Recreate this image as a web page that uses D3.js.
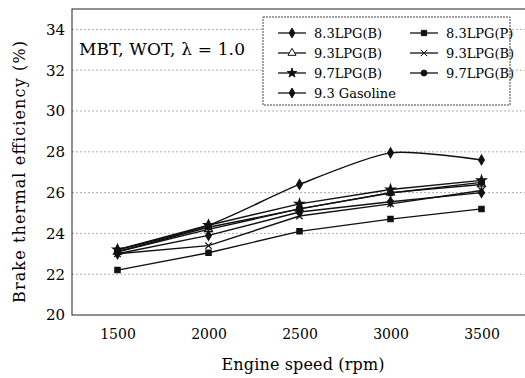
<!DOCTYPE html>
<html>
<head>
<meta charset="utf-8">
<script src="https://cdnjs.cloudflare.com/ajax/libs/d3/7.8.5/d3.min.js"></script>
<style>
body { margin: 0; background: #fff; }
text { font-family: "DejaVu Serif", serif; fill: #000; }
</style>
</head>
<body>
<svg width="525" height="378"></svg>
<script>
// engine speeds (rpm)
var speeds = [1500, 2000, 2500, 3000, 3500];
var yTicks = [20, 22, 24, 26, 28, 30, 32, 34];

// brake thermal efficiency (%)
var lpg83B  = [23.0, 23.9, 25.05, 25.55, 26.0];
var lpg83P  = [22.2, 23.05, 24.1, 24.7, 25.2];
var lpg93B  = [23.1, 24.2, 25.2, 26.0, 26.4];
var lpg93B2 = [23.0, 23.4, 24.85, 25.45, 26.1];
var lpg97B  = [23.2, 24.4, 25.45, 26.15, 26.6];
var lpg97B2 = [23.1, 24.3, 25.2, 25.98, 26.5];
var gasoline = [23.2, 24.4, 26.4, 27.95, 27.6];

var names = ["8.3LPG(B)", "8.3LPG(P)", "9.3LPG(B)", "9.3LPG(B)", "9.7LPG(B)", "9.7LPG(B)", "9.3 Gasoline"];
var series = [lpg83B, lpg83P, lpg93B, lpg93B2, lpg97B, lpg97B2, gasoline];
var symbols = [d3.symbolDiamond, d3.symbolSquare, d3.symbolTriangle, d3.symbolX, d3.symbolStar, d3.symbolCircle, d3.symbolDiamond];

var svg = d3.select("svg");
var pLeft = 72, pRight = 527, pTop = 9, pBottom = 315;

var x = d3.scaleLinear().domain([1250, 3750]).range([pLeft, pRight]);
var y = d3.scaleLinear().domain([20, 35]).range([pBottom, pTop]);

// dashed gridlines
svg.append("g").selectAll("line")
  .data(yTicks.slice(1))
  .enter().append("line")
  .attr("x1", pLeft).attr("x2", pRight)
  .attr("y1", function(d) { return y(d); })
  .attr("y2", function(d) { return y(d); })
  .attr("stroke", "#999")
  .attr("stroke-width", 0.8)
  .attr("stroke-dasharray", "2,2");

// frame
svg.append("rect")
  .attr("x", pLeft).attr("y", pTop)
  .attr("width", pRight - pLeft).attr("height", pBottom - pTop)
  .attr("fill", "none").attr("stroke", "#222").attr("stroke-width", 1);

// axes
var yAxis = d3.axisLeft(y).tickValues(yTicks).tickSize(0).tickPadding(7);
svg.append("g").attr("transform", "translate(" + pLeft + ",0)").call(yAxis)
  .call(function(g) { g.select(".domain").remove(); })
  .selectAll("text").style("font-size", "15px").style("font-family", "DejaVu Serif").attr("fill", "#000");

var xAxis = d3.axisBottom(x).tickValues(speeds).tickFormat(d3.format("d")).tickSize(0).tickPadding(14);
svg.append("g").attr("transform", "translate(0," + pBottom + ")").call(xAxis)
  .call(function(g) { g.select(".domain").remove(); })
  .selectAll("text").style("font-size", "14px").style("font-family", "DejaVu Serif").attr("fill", "#000");

// axis titles
svg.append("text")
  .attr("x", 303).attr("y", 370)
  .attr("text-anchor", "middle")
  .attr("textLength", 163)
  .style("font-size", "16px")
  .text("Engine speed (rpm)");

svg.append("text")
  .attr("transform", "translate(25,172) rotate(-90)")
  .attr("text-anchor", "middle")
  .attr("textLength", 262)
  .style("font-size", "16px")
  .text("Brake thermal efficiency (%)");

svg.append("text")
  .attr("x", 79).attr("y", 55)
  .attr("textLength", 166)
  .style("font-size", "17px")
  .text("MBT, WOT, \u03bb = 1.0");

// lines and markers
var line = d3.line()
  .x(function(d, i) { return x(speeds[i]); })
  .y(function(d) { return y(d); });

series.forEach(function(s, k) {
  svg.append("path")
    .datum(s)
    .attr("d", k == 6 ? line.curve(d3.curveCardinal.tension(0.3))(s) : line.curve(d3.curveLinear)(s))
    .attr("fill", "none")
    .attr("stroke", "#111")
    .attr("stroke-width", 1.4);

  svg.append("g").selectAll("path")
    .data(s)
    .enter().append("path")
    .attr("transform", function(d, i) { return "translate(" + x(speeds[i]) + "," + y(d) + ")"; })
    .attr("d", d3.symbol().type(symbols[k]).size(28))
    .attr("fill", k == 2 ? "#fff" : "#111")
    .attr("stroke", "#111")
    .attr("stroke-width", 1.2);
});

// legend
var lg = svg.append("g");
lg.append("rect")
  .attr("x", 263).attr("y", 17)
  .attr("width", 247).attr("height", 88)
  .attr("fill", "#fff")
  .attr("stroke", "#444")
  .attr("stroke-dasharray", "2,1");

names.forEach(function(n, k) {
  var col = k < 6 ? k % 2 : 0;
  var row = Math.floor(k / 2);
  var lx = 278 + col * 132;
  var ly = 33 + row * 20;
  lg.append("line")
    .attr("x1", lx).attr("x2", lx + 28)
    .attr("y1", ly).attr("y2", ly)
    .attr("stroke", "#111").attr("stroke-width", 1.3);
  lg.append("path")
    .attr("transform", "translate(" + (lx + 14) + "," + ly + ")")
    .attr("d", d3.symbol().type(symbols[k]).size(28))
    .attr("fill", k == 2 ? "#fff" : "#111")
    .attr("stroke", "#111");
  lg.append("text")
    .attr("x", lx + 36).attr("y", ly + 5)
    .style("font-size", "13px")
    .text(n);
});
</script>
</body>
</html>
